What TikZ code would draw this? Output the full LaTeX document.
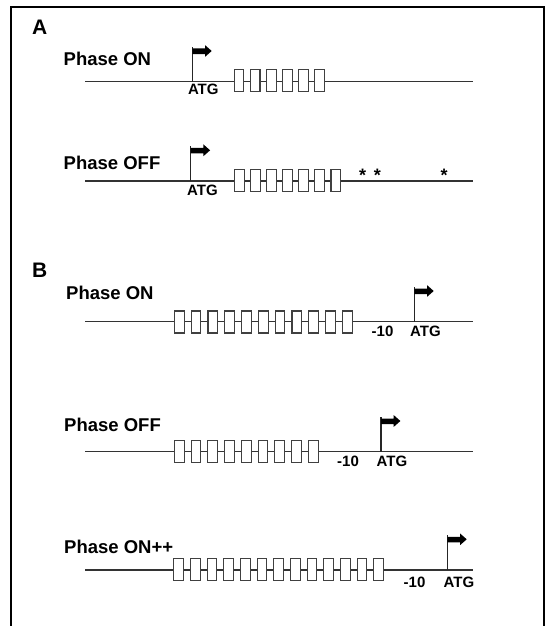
\documentclass[tikz,border=0pt]{standalone}
\usepackage{fontspec}
\setmainfont{Liberation Sans}
\begin{document}
\begin{tikzpicture}[x=1pt,y=-1pt,
  dna/.style={draw=black!80,line width=1.2pt},
  exon/.style={draw=black!75,fill=white,line width=1.1pt,rectangle,inner sep=0pt,minimum width=9.7pt,minimum height=22pt},
  phase/.style={anchor=base west,inner sep=0pt,font=\bfseries\fontsize{18.5}{20}\selectfont},
  panel/.style={anchor=base west,inner sep=0pt,font=\bfseries\fontsize{21}{24}\selectfont},
  small/.style={anchor=base,inner sep=0pt,font=\bfseries\fontsize{15}{17}\selectfont},
  star/.style={inner sep=0pt,font=\bfseries\fontsize{18}{20}\selectfont},
  promflag/.pic={
    \draw[black!85,line width=1.1pt] (0,0) -- (0,-35);
    \fill[black] (0,-33.2) -- (12.7,-33.2) -- (12.7,-36.6) -- (19.4,-30.7) -- (12.7,-24.8) -- (12.7,-27.6) -- (0,-27.6) -- cycle;
  }]
\useasboundingbox (0,0) rectangle (544,626);
% frame
\draw[line width=2pt] (11,626) -- (11,7) -- (543.5,7) -- (543.5,626);

% ---------- Panel A ----------
\node[panel] (labA) at (32,35) {A};
\node[phase] (pA1) at (63.5,66) {Phase ON};
\coordinate (a1s) at (85,81.7);
\coordinate (a1e) at (473,81.7);
\draw[dna] (a1s) -- (a1e);
\foreach \i in {0,...,5} \node[exon] (a1x\i) at (239+16.1*\i,80.8) {};
\pic at (192.3,81.7) {promflag};
\node[small] (atgA1) at (203.3,94.3) {ATG};

\node[phase] (pA2) at (63.5,169.5) {Phase OFF};
\coordinate (a2s) at (85,181);
\coordinate (a2e) at (473,181);
\draw[dna] (a2s) -- (a2e);
\foreach \i in {0,...,6} \node[exon] (a2x\i) at (239.2+16.1*\i,180.8) {};
\pic at (190.7,181) {promflag};
\node[small] (atgA2) at (202.5,195) {ATG};
\node[star] (s1) at (362.7,175) {*};
\node[star] (s2) at (377.3,175) {*};
\node[star] (s3) at (444,175) {*};

% ---------- Panel B ----------
\node[panel] (labB) at (32,277) {B};
\node[phase] (pB1) at (66,299) {Phase ON};
\coordinate (b1s) at (85,321.7);
\coordinate (b1e) at (473,321.7);
\draw[dna] (b1s) -- (b1e);
\foreach \i in {0,...,10} \node[exon] (b1x\i) at (179.2+16.8*\i,322) {};
\node[small] (m10B1) at (382.5,336) {-10};
\pic at (414.3,321.7) {promflag};
\node[small] (atgB1) at (425.5,336) {ATG};

\node[phase] (pB2) at (64,431) {Phase OFF};
\coordinate (b2s) at (85,451.7);
\coordinate (b2e) at (473,451.7);
\draw[dna] (b2s) -- (b2e);
\foreach \i in {0,...,8} \node[exon] (b2x\i) at (179.2+16.75*\i,451.5) {};
\node[small] (m10B2) at (348,466.7) {-10};
\pic at (381,451.7) {promflag};
\node[small] (atgB2) at (392,466.7) {ATG};

\node[phase] (pB3) at (64,553) {Phase ON++};
\coordinate (b3s) at (85,570);
\coordinate (b3e) at (473,570);
\draw[dna] (b3s) -- (b3e);
\foreach \i in {0,...,12} \node[exon] (b3x\i) at (178.7+16.67*\i,569.2) {};
\node[small] (m10B3) at (414.5,587.3) {-10};
\pic at (447.3,570) {promflag};
\node[small] (atgB3) at (459,587.3) {ATG};
\end{tikzpicture}
\end{document}
